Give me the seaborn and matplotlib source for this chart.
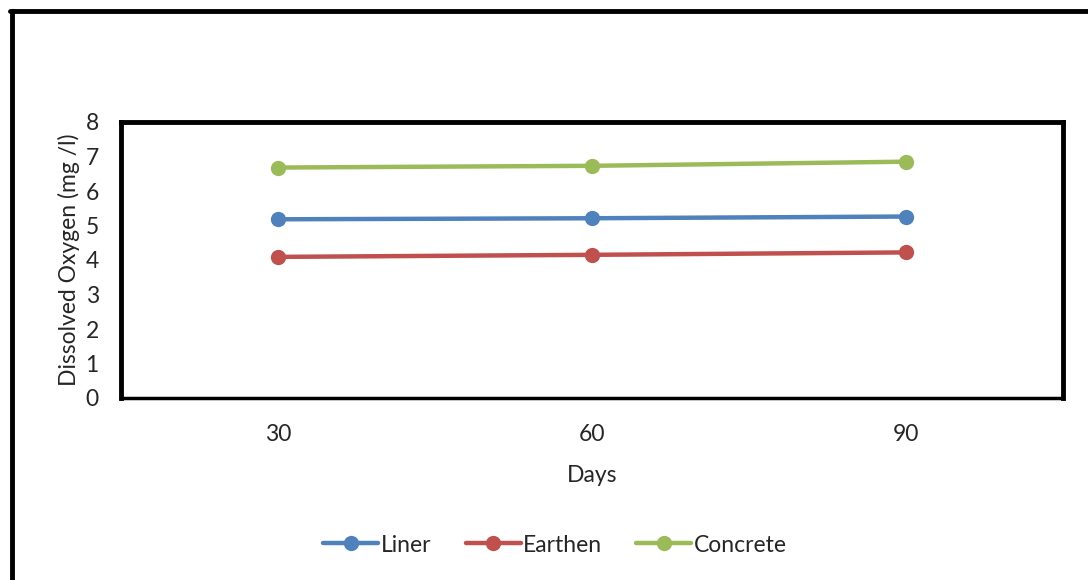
import matplotlib
matplotlib.use("Agg")
import matplotlib.pyplot as plt
import seaborn as sns
import pandas as pd
from matplotlib.lines import Line2D

days = ["30", "60", "90"]
liner = [5.18, 5.21, 5.26]
earthen = [4.09, 4.15, 4.22]
concrete = [6.68, 6.73, 6.85]
series_names = ["Liner", "Earthen", "Concrete"]
colors = ["#4F81BD", "#C0504D", "#9BBB59"]
yticks = [0, 1, 2, 3, 4, 5, 6, 7, 8]

sns.set_theme(style="white")
plt.rcParams['font.family'] = ['Lato', 'DejaVu Sans']

rows = []
for name, vals in zip(series_names, [liner, earthen, concrete]):
    for d, v in zip(days, vals):
        rows.append({"Days": d, "DO": v, "Series": name})
df = pd.DataFrame(rows)

fs = 16.5
fig = plt.figure(figsize=(10.88, 5.80), dpi=100)
ax = fig.add_axes([121/1088, 1-398/580, (1063-121)/1088, (398-122)/580])

sns.lineplot(data=df, x="Days", y="DO", hue="Series", palette=colors,
             hue_order=series_names, marker="o", markersize=11,
             markeredgewidth=0, linewidth=3.2, ax=ax, sort=False, legend=False)

ax.set_xlim(-0.5, 2.5)
ax.set_ylim(0, 8)
ax.set_yticks(yticks)
ax.set_yticklabels([str(t) for t in yticks], fontsize=fs)
ax.set_xticks(range(len(days)))
ax.set_xticklabels(days, fontsize=fs)
ax.tick_params(axis="both", length=0)
ax.tick_params(axis="x", pad=19)
ax.tick_params(axis="y", pad=16)
ax.set_xlabel("Days", fontsize=fs, labelpad=14)
ax.set_ylabel("Dissolved Oxygen (mg /l)", fontsize=fs, labelpad=4)
for side in ["left", "top", "right"]:
    ax.spines[side].set_linewidth(3.5)
    ax.spines[side].set_color("black")
ax.spines["bottom"].set_linewidth(2.5)
ax.spines["bottom"].set_color("black")

# outer chart frame (left and top visible edges)
fig.add_artist(Line2D([12/1088, 12/1088], [0, 1-11/580], transform=fig.transFigure,
                      color="black", linewidth=3.5))
fig.add_artist(Line2D([10/1088, 1], [1-11/580, 1-11/580], transform=fig.transFigure,
                      color="black", linewidth=3.5))

handles = [Line2D([0], [0], color=c, linewidth=3.2, marker="o", markersize=11,
                  markeredgewidth=0) for c in colors]
fig.legend(handles, series_names, loc="center", bbox_to_anchor=(555/1088, 1-545/580),
           ncol=3, frameon=False, fontsize=fs, handlelength=2.4, handletextpad=0.1,
           columnspacing=1.5)

fig.savefig("out.png", dpi=100)
